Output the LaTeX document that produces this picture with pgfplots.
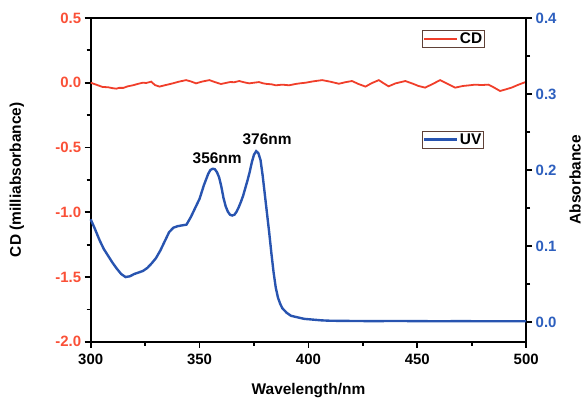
\documentclass[border=0pt]{standalone}
\usepackage{pgfplots}
\pgfplotsset{compat=1.18}
\usepackage{fontspec}
\setmainfont{Liberation Sans}
\definecolor{cdred}{RGB}{240,62,42}
\definecolor{cdlab}{RGB}{250,80,55}
\definecolor{uvblue}{RGB}{40,84,176}
\definecolor{uvlab}{RGB}{45,95,190}
\definecolor{legbox}{RGB}{95,65,55}
\begin{document}
\begin{tikzpicture}
\pgfplotsset{
  every axis/.append style={
    scale only axis, width=437pt, height=325pt,
    xmin=300, xmax=500,
    axis line style={line width=2pt},
    tick style={line width=1.8pt, black},
    major tick length=6pt, minor tick length=4pt,
    tick align=outside,
    tick label style={font=\fontsize{15}{18}\selectfont\bfseries},
    label style={font=\fontsize{15.5}{18}\selectfont\bfseries},
    legend style={font=\fontsize{15.5}{18}\selectfont\bfseries, draw=legbox, line width=0.8pt, inner sep=0.5pt, row sep=0pt},
    legend image code/.code={\draw[#1, line width=2.5pt] (0pt,0pt) -- (33pt,0pt);},
  }
}
\begin{axis}[
  name=a1,
  ymin=-2, ymax=0.5,
  xtick={300,350,400,450,500}, minor x tick num=1,
  xticklabels={300,350,400,450,500},
  xticklabel style={yshift=-3pt},
  ytick={-2,-1.5,-1,-0.5,0,0.5},
  yticklabels={-2.0,-1.5,-1.0,-0.5,0.0,0.5},
  minor y tick num=1,
  xtick pos=lower, ytick pos=left,
  yticklabel style={text=cdlab},
  xlabel={Wavelength/nm},
  ylabel={CD (milliabsorbance)},
  xlabel style={at={(axis description cs:0.5,-0.1508)}, anchor=center},
  ylabel style={at={(axis description cs:-0.1693,0.5)}, anchor=center, rotate=0},
  legend style={at={(rel axis cs:0.76,0.963)}, anchor=north west},
]
\addplot[cdred, line width=1.8pt] coordinates {
(300,0.000) (302,-0.012) (305.5,-0.033) (308,-0.035) (310,-0.042) (311.8,-0.046) (313,-0.040) (315,-0.040) (317,-0.028) (319.4,-0.020) (321.5,-0.010) (323.9,0.000) (325.5,-0.002) (327.8,0.008) (329.5,-0.018) (331.6,-0.030) (334,-0.020) (337.7,-0.005) (340.5,0.008) (343.8,0.020) (346,0.010) (348.4,-0.005) (351,0.008) (354.5,0.020) (357,0.005) (359.8,-0.010) (362,-0.002) (364,0.005) (366,0.004) (368.2,0.013) (370.5,0.003) (372.8,-0.005) (375,0.000) (377.3,0.005) (379,-0.004) (381,-0.010) (383,-0.012) (385,-0.020) (388,-0.015) (391.1,-0.020) (394,-0.010) (396.5,-0.004) (398.7,0.000) (402,0.010) (406.3,0.020) (410,0.008) (414,-0.008) (417,0.004) (420,0.013) (423,-0.010) (426.2,-0.030) (429,-0.004) (432.3,0.020) (434.5,-0.004) (436.8,-0.028) (440,-0.005) (444.5,0.013) (448,-0.008) (450.5,-0.025) (453.6,-0.038) (457,-0.010) (460.5,0.020) (464,-0.010) (467.4,-0.038) (471,-0.025) (474,-0.020) (476.5,-0.015) (479.5,-0.018) (482.6,-0.015) (485,-0.035) (488,-0.064) (490.5,-0.052) (493.3,-0.038) (496.5,-0.015) (499.7,0.005) (500,0.005)
};
\addlegendentry{CD}
\end{axis}
\begin{axis}[
  name=a2,
  ymin=-0.02623, ymax=0.4,
  axis x line=none, axis y line*=right,
  ytick={0,0.1,0.2,0.3,0.4},
  yticklabels={0.0,0.1,0.2,0.3,0.4},
  minor y tick num=1,
  yticklabel style={text=uvlab},
  ylabel={Absorbance},
  ylabel style={at={(axis description cs:1.1121,0.5)}, anchor=center, rotate=0},
  legend style={at={(rel axis cs:0.76,0.652)}, anchor=north west},
  clip=false,
]
\addplot[uvblue, line width=2.4pt] coordinates {
(300,0.135) (302,0.122) (304,0.108) (306,0.096) (308,0.087) (310,0.078) (312,0.070) (314,0.063) (316,0.059) (318,0.060) (320,0.063) (322,0.065) (324,0.067) (326,0.071) (328,0.077) (330,0.084) (332,0.094) (334,0.106) (336,0.118) (338,0.124) (340,0.126) (342,0.127) (344,0.128) (346,0.138) (348,0.150) (350,0.162) (352,0.180) (354,0.195) (355,0.200) (356,0.2015) (357,0.201) (358,0.197) (359,0.190) (360,0.178) (361,0.163) (362,0.152) (363,0.145) (364,0.141) (365,0.140) (366,0.141) (367,0.145) (368,0.151) (369,0.158) (370,0.166) (371,0.176) (372,0.186) (373,0.197) (374,0.210) (375,0.220) (376,0.2247) (377,0.222) (378,0.213) (379,0.192) (380,0.167) (381,0.142) (382,0.117) (383,0.090) (384,0.065) (385,0.045) (386,0.032) (387,0.024) (388,0.018) (390,0.012) (392,0.008) (395,0.006) (398,0.004) (402,0.003) (406,0.002) (410,0.0015) (420,0.0012) (430,0.0010) (440,0.0012) (450,0.0010) (460,0.0008) (470,0.0010) (480,0.0008) (490,0.0008) (500,0.0008)
};
\addlegendentry{UV}
\node[font=\fontsize{15.5}{18}\selectfont\bfseries, anchor=center] at (axis cs:358.1,0.215) {356nm};
\node[font=\fontsize{15.5}{18}\selectfont\bfseries, anchor=center] at (axis cs:381,0.240) {376nm};
\end{axis}
\path (a1.south west) ++(-91pt,-59pt) coordinate (bl);
\path (a1.north east) ++(56pt,18pt) coordinate (tr);
\path[use as bounding box] (bl) rectangle (tr);
\end{tikzpicture}
\end{document}
